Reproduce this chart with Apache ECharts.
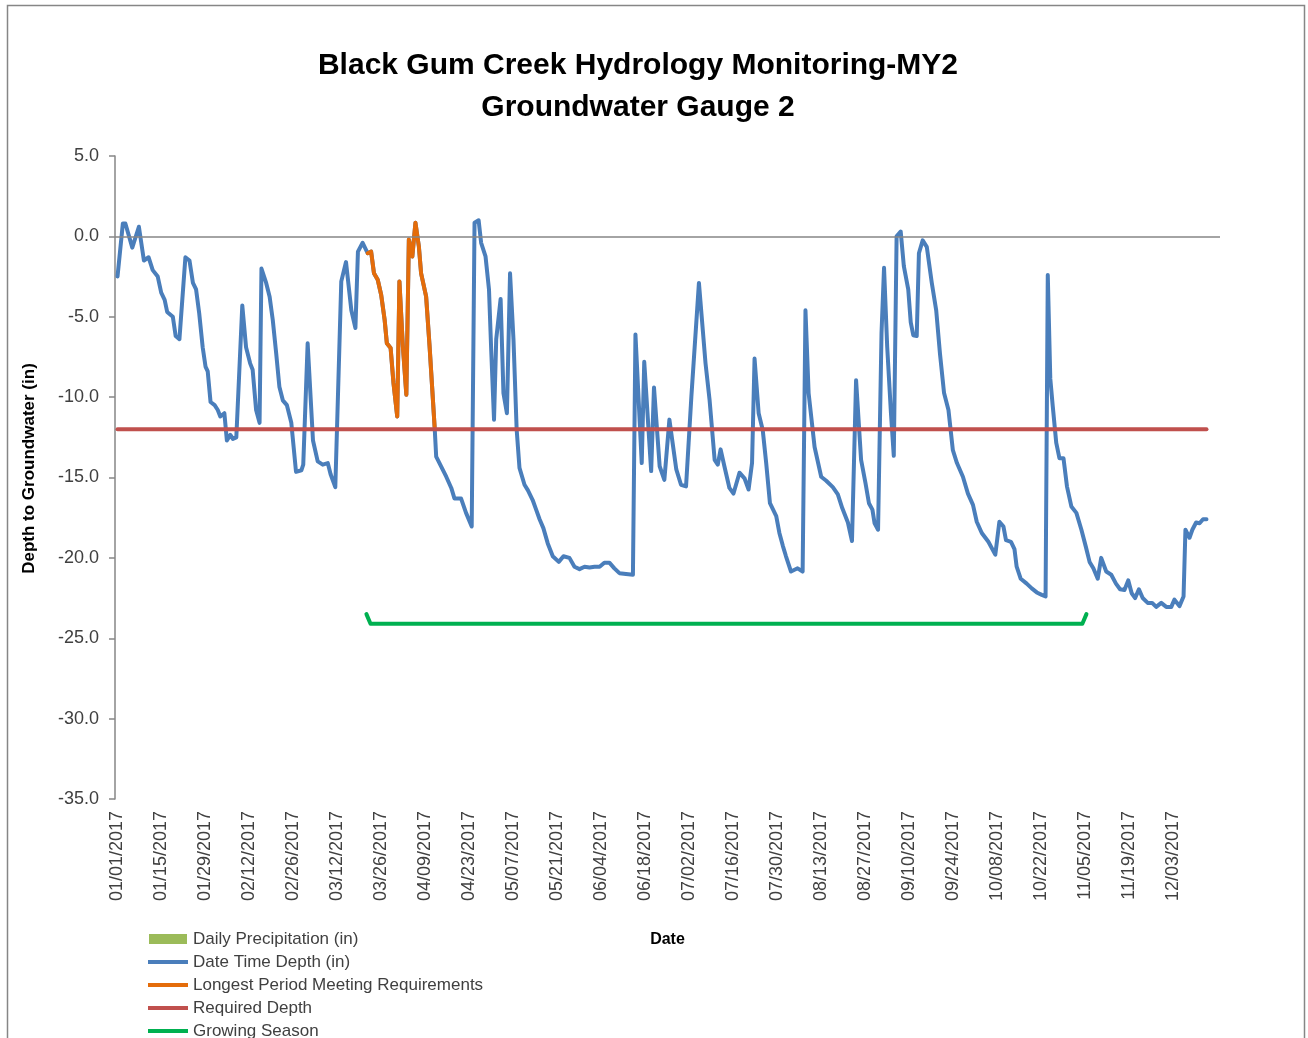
<!DOCTYPE html>
<html>
<head>
<meta charset="utf-8">
<title>Black Gum Creek Hydrology Monitoring-MY2</title>
<script src="https://cdn.jsdelivr.net/npm/echarts@6/dist/echarts.min.js"></script>
<style>
  html, body { margin: 0; padding: 0; background: #fff; }
  #main { width: 1308px; height: 1038px; }
</style>
</head>
<body>
<div id="main"></div>
<script>
// days are counted from 01/01/2017 (day 0)
let depthDay = [0, 1.7, 2.5, 4.7, 6.8, 8.4, 9.9, 11.2, 12.8, 13.9, 15, 15.8, 17.6, 18.5, 19.7, 21.6, 22.9, 24, 25, 26,
  27.1, 28, 28.7, 29.6, 30.9, 31.9, 32.7, 34, 34.8, 35.9, 36.7, 37.8, 39.7, 40.9, 42.2, 43, 44.1, 45.2, 45.8, 47.3,
  48.4, 49.4, 50.5, 51.5, 52.6, 53.9, 55.3, 56.8, 58.5, 59.1, 60.5, 62.2, 63.7, 65.3, 66.9, 67.8, 69.3, 71.2, 72.7, 74.4,
  75.7, 76.5, 78, 79.6, 80.7, 81.6, 82.8, 83.9, 85, 85.7, 86.9, 87.8, 89, 89.7, 90.8, 91.9, 92.7, 93.8, 94.8, 95.9,
  96.6, 98.2, 99.3, 100.9, 101.4, 104.6, 106.2, 107.2, 109.3, 110.9, 112.7, 113.6, 114.9, 115.7, 117.1, 118.2, 118.9, 119.8, 120.5, 121.9,
  122.8, 123.9, 124.9, 126, 127, 127.9, 129.5, 130.6, 132.1, 133.2, 134.3, 135.5, 136.9, 138.5, 140.4, 141.9, 143.8, 145.4, 147, 148.6,
  150.2, 151.8, 153.4, 154.9, 156.5, 158.1, 159.7, 161.8, 164, 164.8, 166.8, 167.6, 169.8, 170.7, 172.5, 174, 175.6, 177.8, 179.3, 180.9,
  182.6, 185, 187.1, 188.4, 190, 191, 191.9, 193.1, 194.7, 196, 197.9, 199.5, 200.8, 201.9, 202.7, 204, 205.3, 206.4, 207.6, 209.6,
  210.6, 211.7, 212.7, 214.3, 216.4, 218, 218.9, 219.9, 221.8, 223.9, 225.5, 227.6, 229.2, 230.6, 232.4, 233.7, 235, 236.6, 238, 239.1,
  240.2, 240.9, 242, 243.1, 243.9, 244.9, 246.1, 247, 247.9, 249.2, 250.2, 251.6, 252.4, 253.2, 254.3, 255, 256.2, 257.5, 259.1, 260.5,
  261.7, 263, 264.4, 265.8, 267.1, 269, 270.6, 272.2, 273.4, 275, 277.1, 279.3, 280.6, 281.9, 282.7, 284.3, 285.4, 286.1, 287.4, 289.3,
  290.9, 292.5, 294.1, 295.3, 296, 296.8, 297.6, 298.7, 299.7, 301, 302.1, 303.5, 305.1, 306.7, 308.1, 309.3, 310.5, 311.9, 313, 314.6,
  316.2, 317.7, 319, 320.4, 321.6, 322.7, 323.8, 325, 326.2, 327.8, 329.2, 330.5, 332.1, 333.7, 335.3, 336.3, 337.9, 339.2, 339.8, 341.1,
  342, 343.2, 344.3, 345.4, 346.5];
let depthValue = [-2.5, 0.8, 0.8, -0.7, 0.6, -1.5, -1.3, -2.1, -2.5, -3.5, -3.95, -4.7, -5.0, -6.2, -6.4, -1.3, -1.5, -2.9, -3.3, -4.8,
  -6.9, -8.1, -8.4, -10.3, -10.5, -10.8, -11.2, -11.0, -12.7, -12.35, -12.6, -12.5, -4.3, -6.9, -7.9, -8.3, -10.8, -11.6, -2.0, -2.9,
  -3.75, -5.2, -7.3, -9.35, -10.2, -10.5, -11.6, -14.65, -14.55, -14.2, -6.65, -12.7, -14.0, -14.2, -14.1, -14.8, -15.6, -2.8, -1.6, -4.6,
  -5.7, -0.95, -0.4, -1.05, -0.95, -2.3, -2.7, -3.65, -5.2, -6.65, -6.95, -9.1, -11.2, -2.8, -6.85, -9.85, -0.2, -1.25, 0.85, -0.65,
  -2.3, -3.75, -6.85, -11.85, -13.7, -14.95, -15.65, -16.3, -16.3, -17.2, -18.05, 0.85, 1.0, -0.4, -1.25, -3.3, -7.05, -11.4, -6.4, -3.9,
  -9.75, -11.0, -2.3, -6.45, -12.0, -14.4, -15.45, -15.8, -16.4, -17.0, -17.6, -18.15, -19.1, -19.9, -20.25, -19.9, -20.0, -20.55, -20.7, -20.55,
  -20.6, -20.55, -20.55, -20.3, -20.3, -20.65, -20.95, -21.0, -21.05, -6.1, -14.1, -7.8, -14.6, -9.4, -14.3, -15.15, -11.4, -14.5, -15.45, -15.55,
  -9.95, -2.9, -7.9, -10.2, -13.9, -14.2, -13.25, -14.3, -15.65, -16.0, -14.7, -15.05, -15.75, -14.1, -7.6, -11.0, -12.05, -14.1, -16.6, -17.4,
  -18.45, -19.25, -19.9, -20.85, -20.65, -20.85, -4.6, -9.75, -13.1, -14.95, -15.2, -15.6, -16.05, -16.9, -17.8, -18.95, -8.95, -13.9, -15.35, -16.6,
  -17.0, -17.85, -18.25, -6.0, -1.95, -6.85, -11.0, -13.65, 0.0, 0.3, -1.85, -3.3, -5.35, -6.15, -6.2, -1.05, -0.25, -0.65, -2.9, -4.6,
  -7.3, -9.75, -10.8, -13.3, -14.1, -14.95, -16.0, -16.7, -17.75, -18.45, -19.0, -19.8, -17.75, -18.05, -18.9, -19.0, -19.45, -20.55, -21.3, -21.6,
  -21.9, -22.15, -22.3, -22.4, -2.4, -8.85, -10.6, -12.85, -13.8, -13.8, -15.55, -16.8, -17.2, -18.25, -19.3, -20.25, -20.65, -21.3, -20.0, -20.85,
  -21.05, -21.6, -21.95, -22.0, -21.4, -22.2, -22.5, -21.95, -22.5, -22.8, -22.8, -23.05, -22.8, -23.05, -23.05, -22.6, -23.0, -22.4, -18.25, -18.75,
  -18.25, -17.8, -17.85, -17.6, -17.6];

let longestStart = 79.6;
let longestEnd = 100.9;

let requiredDay = [0, 346.5];
let requiredValue = [-12, -12];

let seasonDay = [79.2, 80.5, 307, 308.3];
let seasonValue = [-23.5, -24.1, -24.1, -23.5];

let precipDay = [];
let precipValue = [];

// date tick labels, every 14 days from 01/01/2017
let dateTickDays = [0, 14, 28, 42, 56, 70, 84, 98, 112, 126, 140, 154, 168, 182, 196, 210, 224, 238, 252, 266, 280, 294, 308, 322, 336];
let yTicks = { min: -35, max: 5, step: 5 };

function pairs(xs, ys) {
  let out = [];
  for (let i = 0; i < xs.length; i++) out.push([xs[i], ys[i]]);
  return out;
}

function dayLabel(d) {
  let dt = new Date(Date.UTC(2017, 0, 1) + Math.round(d) * 86400000);
  let mm = String(dt.getUTCMonth() + 1).padStart(2, '0');
  let dd = String(dt.getUTCDate()).padStart(2, '0');
  return mm + '/' + dd + '/' + dt.getUTCFullYear();
}

let depthData = pairs(depthDay, depthValue);
let longestData = depthData.filter(p => p[0] >= longestStart && p[0] <= longestEnd);

let font = 'Liberation Sans';
let axisGray = '#868686';
let textGray = '#404040';
let lineIcon = 'path://M0,0H40V4H0Z';

let chart = echarts.init(document.getElementById('main'));
chart.setOption({
  animation: false,
  backgroundColor: '#fff',
  textStyle: { fontFamily: font },
  title: {
    text: 'Black Gum Creek Hydrology Monitoring-MY2\nGroundwater Gauge 2',
    left: 633,
    textAlign: 'center',
    top: 40,
    textStyle: { fontFamily: font, fontSize: 30, fontWeight: 'bold', color: '#000', lineHeight: 42 }
  },
  graphic: [{
    type: 'rect',
    shape: { x: 7.5, y: 5.5, width: 1297, height: 1060 },
    style: { fill: 'none', stroke: axisGray, lineWidth: 1.5 },
    silent: true
  }],
  legend: {
    orient: 'vertical',
    left: 143,
    top: 925,
    height: 200,
    itemGap: 5,
    itemWidth: 40,
    itemHeight: 10,
    textStyle: { fontFamily: font, fontSize: 17, color: textGray, lineHeight: 18 },
    data: [
      { name: 'Daily Precipitation (in)', icon: 'path://M0,0H38V10H0Z' },
      { name: 'Date Time Depth (in)', icon: lineIcon },
      { name: 'Longest Period Meeting Requirements', icon: lineIcon },
      { name: 'Required Depth', icon: lineIcon },
      { name: 'Growing Season', icon: lineIcon }
    ]
  },
  grid: { left: 115, right: 88, top: 156, bottom: 239 },
  xAxis: {
    type: 'value',
    min: -0.8,
    max: 350.8,
    name: 'Date',
    nameLocation: 'middle',
    nameGap: 133,
    nameTextStyle: { fontFamily: font, fontSize: 16, fontWeight: 'bold', color: '#000' },
    axisLine: { show: false, onZero: false },
    axisTick: { show: false },
    splitLine: { show: false },
    axisLabel: {
      rotate: 90,
      margin: 12,
      fontSize: 18,
      color: textGray,
      customValues: dateTickDays,
      formatter: v => dayLabel(v)
    }
  },
  yAxis: {
    type: 'value',
    min: yTicks.min,
    max: yTicks.max,
    interval: yTicks.step,
    name: 'Depth to Groundwater (in)',
    nameLocation: 'middle',
    nameRotate: 90,
    nameGap: 77,
    nameTextStyle: { fontFamily: font, fontSize: 17, fontWeight: 'bold', color: '#000', padding: [0, 0, 0, 18] },
    axisLine: { show: true, onZero: false, lineStyle: { color: axisGray, width: 1.5 } },
    axisTick: { show: true, length: 6, lineStyle: { color: axisGray, width: 1.5 } },
    splitLine: { show: false },
    axisLabel: {
      margin: 16,
      fontSize: 18,
      color: textGray,
      formatter: v => v.toFixed(1)
    }
  },
  series: [
    {
      name: 'Daily Precipitation (in)',
      type: 'bar',
      data: pairs(precipDay, precipValue),
      itemStyle: { color: '#9BBB59' }
    },
    {
      name: 'Date Time Depth (in)',
      type: 'line',
      data: depthData,
      symbol: 'none',
      color: '#4A7EBB',
      lineStyle: { color: '#4A7EBB', width: 4, cap: 'round', join: 'round' },
      z: 3,
      markLine: {
        silent: true,
        symbol: 'none',
        label: { show: false },
        lineStyle: { color: axisGray, width: 1.5, type: 'solid' },
        data: [{ yAxis: 0 }]
      }
    },
    {
      name: 'Longest Period Meeting Requirements',
      type: 'line',
      data: longestData,
      symbol: 'none',
      color: '#E46C0A',
      lineStyle: { color: '#E46C0A', width: 4, cap: 'round', join: 'round' },
      z: 4
    },
    {
      name: 'Required Depth',
      type: 'line',
      data: pairs(requiredDay, requiredValue),
      symbol: 'none',
      color: '#C0504D',
      lineStyle: { color: '#C0504D', width: 4, cap: 'round' },
      z: 5
    },
    {
      name: 'Growing Season',
      type: 'line',
      data: pairs(seasonDay, seasonValue),
      symbol: 'none',
      color: '#00B050',
      lineStyle: { color: '#00B050', width: 4, cap: 'round', join: 'round' },
      z: 5
    }
  ]
});
</script>
</body>
</html>
